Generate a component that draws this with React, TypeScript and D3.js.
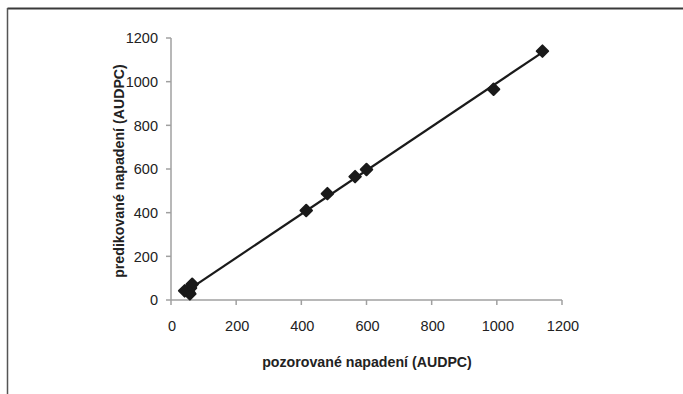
import React from "react";
import * as d3 from "d3";

const observed = [42, 55, 60, 65, 58, 415, 480, 565, 600, 990, 1140];
const predicted = [42, 35, 55, 72, 28, 410, 487, 565, 598, 965, 1140];
const xTicks = [0, 200, 400, 600, 800, 1000, 1200];
const yTicks = [0, 200, 400, 600, 800, 1000, 1200];
const xTitle = "pozorované napadení (AUDPC)";
const yTitle = "predikované napadení (AUDPC)";

const W = 683;
const H = 394;

export default function App() {
  const x = d3.scaleLinear().domain([0, 1200]).range([171, 562]);
  const y = d3.scaleLinear().domain([0, 1200]).range([300, 38]);

  const n = observed.length;
  const mx = d3.mean(observed) as number;
  const my = d3.mean(predicted) as number;
  let sxy = 0, sxx = 0;
  for (let i = 0; i < n; i++) {
    sxy += (observed[i] - mx) * (predicted[i] - my);
    sxx += (observed[i] - mx) ** 2;
  }
  const b = sxy / sxx;
  const a = my - b * mx;
  const x0 = d3.min(observed) as number;
  const x1 = d3.max(observed) as number;
  const line = d3.line<number>().x((d) => x(d)).y((d) => y(a + b * d));

  const diamond = d3.symbol().type(d3.symbolSquare).size(66)();
  const font = "'Liberation Sans', Arial, sans-serif";
  const axisColor = "#a0a0a0";

  return (
    <svg width={W} height={H} style={{ position: "absolute", left: 0, top: 0, background: "#fff" }}>
      <rect x={0} y={0} width={W} height={H} fill="#fff" />
      <line x1={7.5} y1={8.5} x2={W} y2={8.5} stroke="#3a3a3a" strokeWidth={1.8} />
      <line x1={7.5} y1={8} x2={7.5} y2={H} stroke="#555" strokeWidth={1.5} />

      <line x1={x(0)} y1={y(0)} x2={x(0)} y2={y(1200)} stroke={axisColor} strokeWidth={1.5} />
      {yTicks.map((t) => (
        <g key={"y" + t}>
          <line x1={x(0) - 5} x2={x(0)} y1={y(t)} y2={y(t)} stroke={axisColor} strokeWidth={1.5} />
          <text x={x(0) - 13} y={y(t)} dy="0.36em" textAnchor="end" fontFamily={font} fontSize={14.5} fill="#222">
            {t}
          </text>
        </g>
      ))}
      <line x1={x(0)} y1={y(0)} x2={x(1200)} y2={y(0)} stroke={axisColor} strokeWidth={1.5} />
      {xTicks.map((t) => (
        <g key={"x" + t}>
          <line x1={x(t)} x2={x(t)} y1={y(0)} y2={y(0) + 5} stroke={axisColor} strokeWidth={1.5} />
          <text x={x(t) + 1} y={y(0) + 31} textAnchor="middle" fontFamily={font} fontSize={14.5} fill="#222">
            {t}
          </text>
        </g>
      ))}

      <path d={line([x0, x1]) || ""} stroke="#1a1a1a" strokeWidth={2.2} fill="none" />

      {observed.map((o, i) => (
        <path
          key={i}
          d={diamond || ""}
          transform={`translate(${x(o)},${y(predicted[i])}) rotate(45)`}
          fill="#1a1a1a"
          stroke="#1a1a1a"
          strokeWidth={2}
          strokeLinejoin="round"
        />
      ))}

      <text x={367} y={367} textAnchor="middle" fontFamily={font} fontSize={14.2} fontWeight="bold" fill="#222">
        {xTitle}
      </text>
      <text
        transform={`translate(124,${(y(0) + y(1200)) / 2 + 2}) rotate(-90)`}
        textAnchor="middle"
        fontFamily={font}
        fontSize={14.2}
        fontWeight="bold"
        fill="#222"
      >
        {yTitle}
      </text>
    </svg>
  );
}
